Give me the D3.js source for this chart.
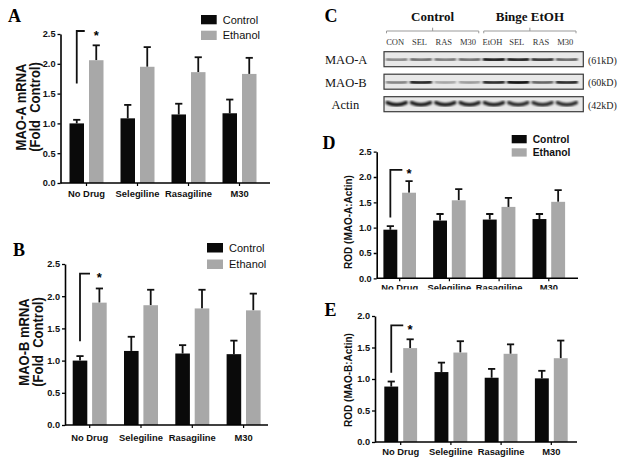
<!DOCTYPE html>
<html>
<head>
<meta charset="utf-8">
<script src="https://cdn.jsdelivr.net/npm/d3@7"></script>
<style>
  body { margin: 0; background: #fff; }
  svg { display: block; }
  text { white-space: pre; }
</style>
</head>
<body>
<svg id="fig" width="629" height="466"></svg>
<script>
// ---- data ----
const groups = ["No Drug", "Selegiline", "Rasagiline", "M30"];
const series = ["Control", "Ethanol"];

// A: MAO-A mRNA (fold control), mean and SEM
const aControl = [1.00, 1.085, 1.15, 1.17];
const aControlErr = [0.06, 0.225, 0.18, 0.23];
const aEthanol = [2.06, 1.95, 1.86, 1.83];
const aEthanolErr = [0.25, 0.33, 0.25, 0.27];

// B: MAO-B mRNA (fold control)
const bControl = [1.00, 1.15, 1.11, 1.10];
const bControlErr = [0.07, 0.22, 0.13, 0.21];
const bEthanol = [1.90, 1.86, 1.81, 1.78];
const bEthanolErr = [0.22, 0.24, 0.29, 0.26];

// D: ROD (MAO-A:Actin)
const dControl = [0.96, 1.14, 1.16, 1.17];
const dControlErr = [0.07, 0.13, 0.11, 0.10];
const dEthanol = [1.69, 1.54, 1.41, 1.51];
const dEthanolErr = [0.23, 0.22, 0.18, 0.23];

// E: ROD (MAO-B:Actin)
const eControl = [0.88, 1.11, 1.02, 1.01];
const eControlErr = [0.08, 0.15, 0.14, 0.12];
const eEthanol = [1.49, 1.42, 1.40, 1.33];
const eEthanolErr = [0.14, 0.18, 0.15, 0.28];

const ticks25 = [0, 0.5, 1.0, 1.5, 2.0, 2.5];
const ticks20 = [0, 0.5, 1.0, 1.5, 2.0];

// significance bracket (low end, top) on the No Drug pair
const bracketA = [1.67, 2.55];
const bracketB = [1.30, 2.35];
const bracketD = [1.20, 2.14];
const bracketE = [1.10, 1.85];

// C: western blot
const lanes = ["CON", "SEL", "RAS", "M30", "EtOH", "SEL", "RAS", "M30"];
const blotRows = ["MAO-A", "MAO-B", "Actin"];
const blotSizes = ["(61kD)", "(60kD)", "(42kD)"];
const conditionNames = ["Control", "Binge EtOH"];
const conditionLanes = [[0, 3], [4, 7]];
// band darkness per lane (0..1)
const maoABands = [0.5, 0.6, 0.55, 0.62, 0.95, 0.92, 0.85, 0.65];
const maoBBands = [0.5, 0.9, 0.35, 0.4, 0.88, 1.0, 0.65, 0.88];
const actinBands = [0.95, 0.92, 0.92, 0.9, 0.9, 0.85, 0.85, 0.85];

// ---- drawing ----
const svg = d3.select("#fig");
const sans = "'Liberation Sans', Arial, sans-serif";
const serif = "'Liberation Serif', 'Times New Roman', serif";
const colors = { Control: "#0a0a0a", Ethanol: "#a8a8a8" };

const defs = svg.append("defs");
defs.append("clipPath").attr("id", "clipD")
  .append("rect").attr("x", 300).attr("y", 120).attr("width", 329).attr("height", 169.5);
defs.append("filter").attr("id", "blur")
  .attr("x", "-20%").attr("y", "-100%").attr("width", "140%").attr("height", "300%")
  .append("feGaussianBlur").attr("stdDeviation", 0.8);

function panelLetter(t, x, y) {
  svg.append("text").attr("x", x).attr("y", y).text(t)
    .attr("font-family", serif).attr("font-weight", "bold").attr("font-size", 18);
}

function barPanel(p) {
  const g = svg.append("g");
  if (p.clip) g.attr("clip-path", `url(#${p.clip})`);

  const y = d3.scaleLinear().domain([0, p.yMax]).range([p.y0, p.y1]);
  const start = p.c0 - p.step / 2;
  const x0 = d3.scaleBand().domain(groups).range([start, start + p.step * groups.length]);
  const half = p.bw + p.gap / 2;
  const x1 = d3.scaleBand().domain(series).range([-half, half]).paddingInner(p.gap / (p.bw + p.gap));

  const rows = groups.map((grp, i) => ({
    group: grp,
    bars: [
      { s: "Control", v: p.control[i], e: p.controlErr[i] },
      { s: "Ethanol", v: p.ethanol[i], e: p.ethanolErr[i] }
    ]
  }));

  const gg = g.selectAll(".grp").data(rows).enter().append("g")
    .attr("transform", d => `translate(${x0(d.group) + x0.bandwidth() / 2},0)`);

  // error bars (upper only)
  gg.selectAll(".err").data(d => d.bars).enter().append("g").each(function (d) {
    const cx = x1(d.s) + x1.bandwidth() / 2;
    const s = d3.select(this);
    s.append("line").attr("x1", cx).attr("x2", cx)
      .attr("y1", y(d.v)).attr("y2", y(d.v + d.e))
      .attr("stroke", "#111").attr("stroke-width", 1.8);
    s.append("line").attr("x1", cx - 3.6).attr("x2", cx + 3.6)
      .attr("y1", y(d.v + d.e)).attr("y2", y(d.v + d.e))
      .attr("stroke", "#111").attr("stroke-width", 1.8);
  });

  gg.selectAll("rect").data(d => d.bars).enter().append("rect")
    .attr("x", d => x1(d.s))
    .attr("width", x1.bandwidth())
    .attr("y", d => y(d.v))
    .attr("height", d => y(0) - y(d.v))
    .attr("fill", d => colors[d.s]);

  // y axis
  const ya = g.append("g").attr("transform", `translate(${p.ax},0)`)
    .call(d3.axisLeft(y).tickValues(p.ticks).tickFormat(d3.format(".1f")).tickSize(3).tickSizeOuter(0).tickPadding(2));
  ya.select(".domain").attr("stroke-width", 1.6);
  ya.selectAll(".tick line").attr("stroke-width", 1.3);
  ya.selectAll("text").attr("font-family", sans).attr("font-weight", "bold")
    .attr("font-size", 9.2).attr("fill", "#111");

  // x axis
  const xa = g.append("g").attr("transform", `translate(0,${p.y0})`)
    .call(d3.axisBottom(x0).tickSize(3).tickSizeOuter(0));
  xa.select(".domain").remove();
  xa.append("line").attr("x1", p.ax).attr("x2", p.axEnd).attr("y1", 0).attr("y2", 0)
    .attr("stroke", "#000").attr("stroke-width", 1.6);
  xa.selectAll(".tick line").attr("stroke-width", 1.2);
  xa.selectAll("text").attr("y", p.lab).attr("dy", 0)
    .attr("font-family", sans).attr("font-weight", "bold")
    .attr("font-size", 9.4).attr("fill", "#111");

  // y title
  p.title.forEach((t, i) => {
    g.append("text")
      .attr("transform", `translate(${p.titleX[i]},${p.titleY}) rotate(-90) scale(1,1.12)`)
      .attr("text-anchor", "middle").attr("dy", "0.35em")
      .attr("font-family", sans).attr("font-weight", "bold")
      .attr("font-size", p.titleSize).attr("fill", "#111")
      .text(t);
  });

  // significance bracket
  const bx = x0(groups[0]) + x0.bandwidth() / 2;
  const cxC = bx + x1("Control") + x1.bandwidth() / 2;
  const cxE = bx + x1("Ethanol") + x1.bandwidth() / 2;
  g.append("path")
    .attr("d", `M${cxC},${y(p.bracket[0])}V${y(p.bracket[1])}H${cxC + p.bracketLen}`)
    .attr("fill", "none").attr("stroke", "#111").attr("stroke-width", 1.8);
  g.append("text").attr("x", cxE).attr("y", y(p.bracket[1]) + 8.5)
    .attr("text-anchor", "middle")
    .attr("font-family", sans).attr("font-weight", "bold").attr("font-size", 13)
    .text("*");

  // legend
  if (p.legend) {
    const L = p.legend;
    series.forEach((s, i) => {
      const yy = L.y + i * L.dy;
      g.append("rect").attr("x", L.x).attr("y", yy).attr("width", L.w).attr("height", L.h)
        .attr("fill", colors[s]);
      g.append("text").attr("x", L.x + L.w + 6).attr("y", yy + L.h / 2).attr("dy", "0.36em")
        .attr("font-family", sans).attr("font-weight", L.weight).attr("font-size", L.size)
        .attr("fill", "#111").text(s);
    });
  }
}

barPanel({
  control: aControl, controlErr: aControlErr, ethanol: aEthanol, ethanolErr: aEthanolErr,
  yMax: 2.5, ticks: ticks25, y0: 183, y1: 34, ax: 60.5, axEnd: 270,
  c0: 86.5, step: 51, bw: 14.5, gap: 5, lab: 13.7,
  title: ["MAO-A mRNA", "(Fold  Control)"], titleX: [20.5, 35], titleY: 107, titleSize: 13,
  bracket: bracketA, bracketLen: 8,
  legend: { x: 201, y: 15, dy: 15.7, w: 15.7, h: 9.3, size: 11, weight: "normal" }
});

barPanel({
  control: bControl, controlErr: bControlErr, ethanol: bEthanol, ethanolErr: bEthanolErr,
  yMax: 2.5, ticks: ticks25, y0: 425, y1: 264, ax: 65, axEnd: 268,
  c0: 89.7, step: 51.3, bw: 14.6, gap: 4.8, lab: 15.7,
  title: ["MAO-B mRNA", "(Fold  Control)"], titleX: [23.5, 37.5], titleY: 342, titleSize: 13,
  bracket: bracketB, bracketLen: 10,
  legend: { x: 207, y: 243, dy: 16.5, w: 16, h: 9.5, size: 11, weight: "normal" }
});

barPanel({
  control: dControl, controlErr: dControlErr, ethanol: dEthanol, ethanolErr: dEthanolErr,
  yMax: 2.5, ticks: ticks25, y0: 278.3, y1: 151.7, ax: 376.7, axEnd: 578,
  c0: 399.7, step: 49.7, bw: 13.9, gap: 4.8, lab: 12.5, clip: "clipD",
  title: ["ROD (MAO-A:Actin)"], titleX: [348], titleY: 222, titleSize: 10,
  bracket: bracketD, bracketLen: 12,
  legend: { x: 511.7, y: 135, dy: 13.3, w: 15, h: 8.3, size: 10.3, weight: "bold" }
});

barPanel({
  control: eControl, controlErr: eControlErr, ethanol: eEthanol, ethanolErr: eEthanolErr,
  yMax: 2.0, ticks: ticks20, y0: 442, y1: 316, ax: 375, axEnd: 577,
  c0: 400.7, step: 50.2, bw: 13.9, gap: 5, lab: 13.4,
  title: ["ROD (MAO-B:Actin)"], titleX: [348], titleY: 380, titleSize: 10,
  bracket: bracketE, bracketLen: 12
});

panelLetter("A", 8, 22);
panelLetter("B", 13, 255.5);
panelLetter("C", 324.5, 22);
panelLetter("D", 322.5, 148.5);
panelLetter("E", 324.5, 315.5);

// ---- C: blot ----
const blot = svg.append("g");
const lx = d3.scaleBand().domain(d3.range(lanes.length)).range([384.5, 579]);
const ry = d3.scaleBand().domain(blotRows).range([51.7, 111.7]).paddingInner(1 / 3);
const bandData = { "MAO-A": maoABands, "MAO-B": maoBBands, "Actin": actinBands };

conditionNames.forEach((name, i) => {
  const [a, b] = conditionLanes[i];
  const xa = lx(a) + 2, xb = lx(b) + lx.bandwidth() - 3;
  const mid = (xa + xb) / 2;
  blot.append("path")
    .attr("d", `M${xa},33.3V31H${xb}V33.3M${mid},31V27.7`)
    .attr("fill", "none").attr("stroke", "#999").attr("stroke-width", 1);
  blot.append("text").attr("x", mid).attr("y", 21).attr("text-anchor", "middle")
    .attr("font-family", serif).attr("font-weight", "bold").attr("font-size", 13)
    .attr("fill", "#111").text(name);
});

blot.selectAll(".lane").data(lanes).enter().append("text")
  .attr("x", (d, i) => lx(i) + lx.bandwidth() / 2 - 1.5)
  .attr("y", 44.5).attr("text-anchor", "middle")
  .attr("font-family", serif).attr("font-size", 8.5).attr("fill", "#333")
  .text(d => d);

blotRows.forEach((r, ri) => {
  const y0 = ry(r), h = ry.bandwidth(), cy = y0 + h / 2 + 0.5;
  blot.append("rect").attr("x", 384).attr("y", y0).attr("width", 199.3).attr("height", h)
    .attr("fill", "#e8e8e8").attr("stroke", "#3a3a3a").attr("stroke-width", 1.2);
  const sag = r === "Actin" ? 2.2 : 0.6;
  blot.append("g").attr("filter", "url(#blur)")
    .selectAll("path").data(bandData[r]).enter().append("path")
    .attr("d", (d, i) => {
      const c = lx(i) + lx.bandwidth() / 2;
      const yy = r === "Actin" ? cy - 1 : cy;
      return `M${c - 9.5},${yy - sag / 2}Q${c},${yy + sag * 1.5} ${c + 9.5},${yy - sag / 2}`;
    })
    .attr("fill", "none").attr("stroke", "#000")
    .attr("stroke-linecap", "round")
    .attr("stroke-width", d => (r === "Actin" ? 3.4 : 2.2 + d * 1.6))
    .attr("stroke-opacity", d => d);
  blot.append("text").attr("x", r === "Actin" ? 331.5 : 325).attr("y", cy + 4.3)
    .attr("font-family", serif).attr("font-size", 12.5).attr("fill", "#111").text(r);
  blot.append("text").attr("x", 588).attr("y", cy + 4)
    .attr("font-family", serif).attr("font-size", 10).attr("fill", "#222").text(blotSizes[ri]);
});
</script>
</body>
</html>
